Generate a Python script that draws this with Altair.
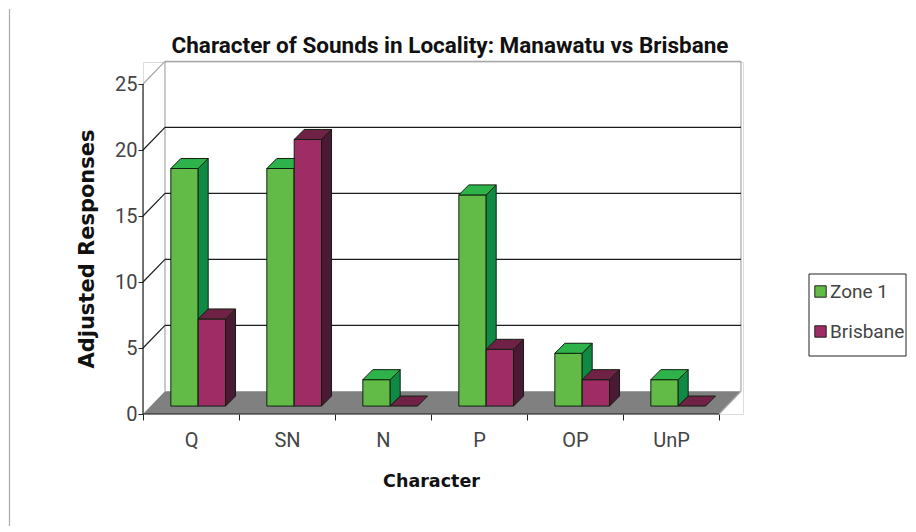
import altair as alt
import pandas as pd

categories = ["Q", "SN", "N", "P", "OP", "UnP"]
zone1 = [18, 18, 2, 16, 4, 2]
brisbane = [6.6, 20.2, 0, 4.3, 2, 0]
y_ticks = [0, 5, 10, 15, 20, 25]
title_text = "Character of Sounds in Locality: Manawatu vs Brisbane"

# depth of the 3-D box, in data units
WALL_DX, WALL_DV = 0.229, 1.72
BAR_DX, BAR_DV = 0.104, 0.76
BASE_DX, BASE_DV = 0.083, 0.6
BAR_START, BAR_W = 0.29, 0.285

faces = []
fid = 0


def add(points, face):
    global fid
    fid += 1
    for x, y, y2 in points:
        faces.append(dict(id=fid, x=x, y=y, y2=y2, face=face))


for i in range(len(categories)):
    for j, (name, v) in enumerate((("Zone 1", zone1[i]), ("Brisbane", brisbane[i]))):
        x0 = i + BAR_START + j * BAR_W
        x1 = x0 + BAR_W
        b = BASE_DV
        t = b + v
        if v > 0:
            add([(x0, t, b), (x1, t, b)], name)
            add([(x1, t, b), (x1 + BAR_DX, t + BAR_DV, b + BAR_DV)], name + " side")
        add([(x0, t, t), (x0 + BAR_DX, t + BAR_DV, t), (x1, t + BAR_DV, t),
             (x1 + BAR_DX, t + BAR_DV, t + BAR_DV)], name + " top")

face_df = pd.DataFrame(faces)

floor_df = pd.DataFrame([
    dict(x=0, y=0, y2=0), dict(x=WALL_DX, y=WALL_DV, y2=0),
    dict(x=6, y=WALL_DV, y2=0), dict(x=6 + WALL_DX, y=WALL_DV, y2=WALL_DV),
])

lines = []
lid = 0


def seg(x0, y0, x1, y1, col):
    global lid
    lid += 1
    lines.append(dict(id=lid, x=x0, y=y0, c=col))
    lines.append(dict(id=lid, x=x1, y=y1, c=col))


GRAY, DARK = "#a6a6a6", "#1c1c1c"
seg(WALL_DX, WALL_DV, WALL_DX, 25 + WALL_DV, GRAY)
seg(6 + WALL_DX, WALL_DV, 6 + WALL_DX, 25 + WALL_DV, GRAY)
seg(WALL_DX, 25 + WALL_DV, 6 + WALL_DX, 25 + WALL_DV, GRAY)
seg(0, 25, WALL_DX, 25 + WALL_DV, GRAY)
seg(6, 0, 6 + WALL_DX, WALL_DV, GRAY)
for v in y_ticks[1:-1]:
    seg(0, v, WALL_DX, v + WALL_DV, DARK)
    seg(WALL_DX, v + WALL_DV, 6 + WALL_DX, v + WALL_DV, DARK)
seg(0, 0, 0, 25, "#222222")
seg(0, 0, 6, 0, "#222222")
line_df = pd.DataFrame(lines)

X = alt.Scale(domain=[0, 6.25], range=[0, 600], nice=False, zero=False)
Y = alt.Scale(domain=[0, 26.67], range=[352, 0], nice=False, zero=False)

FONT = "Roboto"
x_vals = [i / 2 for i in range(13)]
label_js = "[" + ",".join(f"'{c}'" for c in categories) + "]"
x_axis = alt.Axis(
    values=x_vals, grid=False, domain=False,
    tickOpacity={"condition": {"test": "datum.value % 1 == 0", "value": 1}, "value": 0},
    tickColor="#222222", tickSize=6,
    labelExpr=f"datum.value % 1 == 0 ? '' : {label_js}[floor(datum.value)]",
    labelFont=FONT, labelFontSize=20, labelColor="#444444",
    labelAngle=0, labelOverlap=False, labelBound=False, labelFlush=False, labelPadding=10,
    title="Character", titleFont="DejaVu Sans", titleFontWeight="bold", titleFontSize=17.5,
    titleColor="#111111", titleX=288, titleY=58,
)
y_axis = alt.Axis(
    values=y_ticks, grid=False, domain=False, tickColor="#222222", tickSize=5,
    labelFont=FONT, labelFontSize=20, labelColor="#444444", labelPadding=1,
    title="Adjusted Responses", titleFont="DejaVu Sans", titleFontWeight="bold", titleFontSize=21,
    titleColor="#111111", titleX=-46, titleY=186.5,
)

base_x = alt.X("x:Q", scale=X, axis=x_axis)
base_y = alt.Y("y:Q", scale=Y, axis=y_axis)

floor = alt.Chart(floor_df).mark_area(color="#808080").encode(base_x, base_y, y2="y2:Q")
wall = alt.Chart(line_df).mark_line(strokeWidth=1.2).encode(
    base_x, base_y, detail="id:N", color=alt.Color("c:N", scale=None))

domain = ["Zone 1", "Brisbane", "Zone 1 side", "Zone 1 top", "Brisbane side", "Brisbane top"]
rng = ["#62bb46", "#a02c66", "#0f8a45", "#2db34a", "#4a1a33", "#6f2246"]
bars = alt.Chart(face_df).mark_area(stroke="#10200f", strokeWidth=1).encode(
    base_x, base_y, y2="y2:Q", detail="id:N",
    color=alt.Color("face:N", scale=alt.Scale(domain=domain, range=rng), legend=alt.Legend(
        values=["Zone 1", "Brisbane"], title=None, orient="none", legendX=668, legendY=220,
        symbolType="square", symbolSize=130, symbolStrokeColor="#222222", symbolStrokeWidth=1,
        labelFont=FONT, labelFontSize=19, labelColor="#444444",
        padding=0, rowPadding=20, labelOffset=0,
    )),
)

one = pd.DataFrame({"k": [0]})
edge = alt.Chart(one).mark_rule(color="#aaaaaa", strokeWidth=1.2).encode(
    x=alt.value(-133.5), y=alt.value(-53), y2=alt.value(464))
frame = alt.Chart(one).mark_rect(fill="#ffffff", stroke="#222222", strokeWidth=1).encode(
    x=alt.value(666), x2=alt.value(763), y=alt.value(212), y2=alt.value(294))

chart = alt.layer(edge, frame, floor, wall, bars).properties(
    width=600, height=352, padding=0,
    title=alt.TitleParams(title_text, font=FONT, fontWeight="bold", fontSize=22.5,
                          color="#111111", anchor="middle", dx=7, offset=-49),
).configure_view(stroke=None).configure(background="#ffffff")

chart.save("out.html", embed_options={"renderer": "svg", "actions": False})
